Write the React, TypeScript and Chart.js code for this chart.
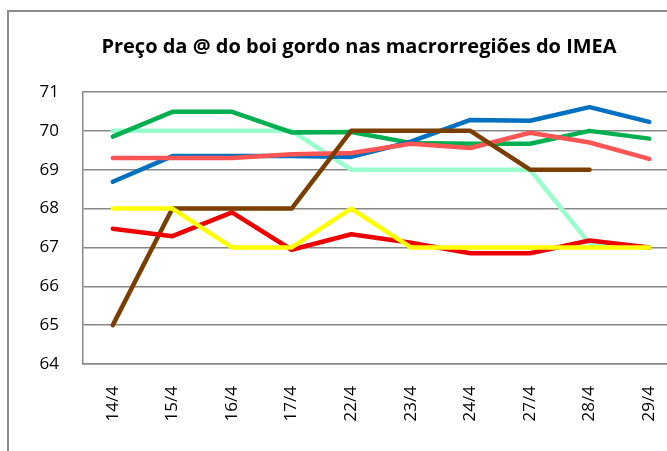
import React, { useEffect, useRef } from "react";
import { Chart, registerables } from "chart.js";

Chart.register(...registerables);

const categories = ["14/4", "15/4", "16/4", "17/4", "22/4", "23/4", "24/4", "27/4", "28/4", "29/4"];

const blueSeries = [68.69, 69.35, 69.35, 69.35, 69.33, 69.72, 70.28, 70.26, 70.61, 70.23];
const greenSeries = [69.85, 70.49, 70.49, 69.96, 69.97, 69.69, 69.67, 69.67, 70.0, 69.8];
const mintSeries = [70, 70, 70, 70, 69, 69, 69, 69, 67.1, 67];
const salmonSeries = [69.3, 69.3, 69.3, 69.4, 69.43, 69.67, 69.56, 69.95, 69.7, 69.28];
const brownSeries = [65, 68, 68, 68, 70, 70, 70, 69, 69, null];
const redSeries = [67.48, 67.29, 67.9, 66.94, 67.34, 67.12, 66.85, 66.85, 67.18, 67.0];
const yellowSeries = [68, 68, 67, 67, 68, 67, 67, 67, 67, 67];

const yMin = 64;
const yMax = 71;

const titleText = "Preço da @ do boi gordo nas macrorregiões do IMEA";

export default function App() {
  const canvasRef = useRef<HTMLCanvasElement | null>(null);

  useEffect(() => {
    if (!canvasRef.current) return;
    const mk = (data: (number | null)[], color: string) => ({
      data,
      borderColor: color,
      backgroundColor: color,
      borderWidth: 4.5,
      pointRadius: 0,
      pointHoverRadius: 0,
      tension: 0,
      borderCapStyle: "round" as const,
      borderJoinStyle: "round" as const,
      spanGaps: false,
    });
    // Chart.js draws the first dataset on top
    const chart = new Chart(canvasRef.current, {
      type: "line",
      data: {
        labels: categories,
        datasets: [
          mk(yellowSeries, "#FFFF00"),
          mk(redSeries, "#EE0000"),
          mk(brownSeries, "#7A3E00"),
          mk(salmonSeries, "#FF5555"),
          mk(blueSeries, "#0070C0"),
          mk(greenSeries, "#00B050"),
          mk(mintSeries, "#99FFCC"),
        ],
      },
      options: {
        animation: false,
        responsive: false,
        maintainAspectRatio: false,
        layout: { padding: { left: 31, right: 31, top: 0, bottom: 0 } },
        plugins: {
          legend: { display: false },
          tooltip: { enabled: false },
          title: {
            display: true,
            text: titleText,
            color: "#000000",
            font: { family: "Open Sans", size: 20, weight: "bold" },
            padding: { top: 23, bottom: 33 },
          },
        },
        scales: {
          x: {
            type: "category",
            offset: true,
            grid: { display: false, drawTicks: false },
            border: { display: true, color: "#878787", width: 1.5 },
            ticks: {
              minRotation: 90,
              maxRotation: 90,
              autoSkip: false,
              padding: 22,
              color: "#000000",
              font: { family: "Open Sans", size: 17 },
            },
            afterFit: (scale: any) => {
              scale.height = 108;
            },
          },
          y: {
            min: yMin,
            max: yMax,
            grid: { color: "#878787", lineWidth: 1.5, drawTicks: false },
            border: { display: true, color: "#878787", width: 1.5 },
            ticks: {
              stepSize: 1,
              padding: 24,
              color: "#000000",
              font: { family: "Open Sans", size: 17 },
            },
            afterFit: (scale: any) => {
              scale.width = 44;
            },
          },
        },
      },
    });
    return () => chart.destroy();
  }, []);

  return (
    <div
      style={{
        position: "fixed",
        left: 0,
        top: 0,
        width: 667,
        height: 451,
        overflow: "hidden",
        background: "#ffffff",
      }}
    >
      <div
        style={{
          position: "absolute",
          left: 7,
          top: 10,
          width: 720,
          height: 480,
          border: "2.5px solid #8a8a8a",
          boxSizing: "border-box",
        }}
      />
      <canvas
        ref={canvasRef}
        width={702}
        height={460}
        style={{ position: "absolute", left: 8, top: 12, width: 702, height: 460 }}
      />
    </div>
  );
}
